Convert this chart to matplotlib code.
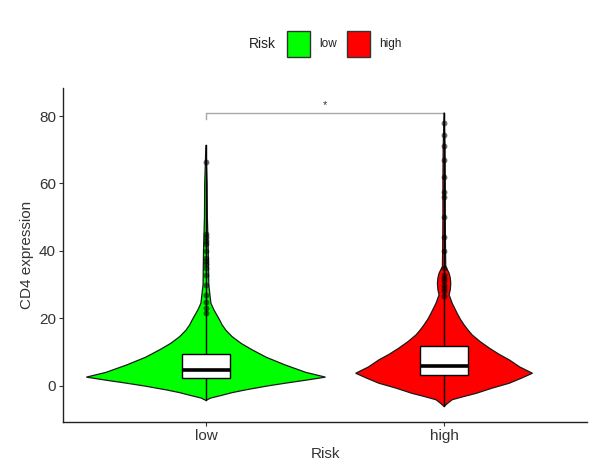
import matplotlib
matplotlib.use("Agg")
import matplotlib.pyplot as plt
from matplotlib.patches import Rectangle

plt.rcParams['font.family'] = ['Liberation Sans', 'DejaVu Sans']

groups = ["low", "high"]
fill_colors = ["#00FF00", "#FF0000"]

# violin outlines: expression level and half width (category units)
low_y = [-4.3, -3.6, -3.0, -2.0, -1.2, 0.0, 0.8, 1.7, 2.6, 4.0, 6.2, 8.5, 10.7, 12.6, 14.6, 16.5,
         18.1, 19.5, 21.0, 22.5, 24.5, 30.0, 40.0, 50.0, 60.0, 71.4]
low_w = [0.0, 0.020, 0.055, 0.110, 0.165, 0.260, 0.333, 0.420, 0.502, 0.420, 0.333, 0.253, 0.194,
         0.148, 0.110, 0.084, 0.068, 0.058, 0.046, 0.034, 0.021, 0.012, 0.010, 0.006, 0.005, 0.0]
high_y = [-6.1, -5.2, -4.1, -3.2, -2.2, -0.7, 0.8, 2.3, 3.75, 5.6, 7.7, 9.4, 11.2, 13.1, 15.1, 16.6,
          18.1, 19.8, 21.5, 24.5, 27.0, 28.5, 30.4, 32.0, 33.4, 35.4, 40.0, 50.0, 60.0, 70.0, 81.0]
high_w = [0.0, 0.014, 0.034, 0.080, 0.135, 0.200, 0.274, 0.325, 0.371, 0.318, 0.274, 0.230, 0.190,
          0.152, 0.118, 0.100, 0.084, 0.068, 0.055, 0.034, 0.021, 0.026, 0.028, 0.026, 0.021, 0.007,
          0.006, 0.005, 0.005, 0.004, 0.0]

# box statistics: q1, median, q3, lower whisker, upper whisker
low_box = [2.3, 4.7, 9.5, -4.3, 20.0]
high_box = [3.3, 5.9, 11.9, -6.1, 25.3]

low_outliers = [21.6, 23.0, 25.0, 27.0, 30.0, 33.0, 35.0, 36.0, 37.0, 38.0, 40.0, 42.0, 43.0,
                44.0, 45.0, 66.5]
high_outliers = [26.5, 28.0, 29.0, 30.0, 31.0, 32.0, 33.0, 35.0, 40.0, 44.0, 50.0, 56.0, 57.5,
                 62.0, 67.0, 71.0, 74.5, 78.0]

y_ticks = [0, 20, 40, 60, 80]
bracket_level = 80.9

fig = plt.figure(figsize=(5.89, 4.73), dpi=100)
ax = fig.add_axes([63 / 589, 1 - 422 / 473, 524 / 589, 334 / 473])

shapes = [(low_y, low_w), (high_y, high_w)]
boxes = [low_box, high_box]
outliers = [low_outliers, high_outliers]

for i, ((ys, ws), stats, pts, col) in enumerate(zip(shapes, boxes, outliers, fill_colors)):
    pos = i + 1
    xs = [pos + w for w in ws] + [pos - w for w in ws[::-1]]
    yy = list(ys) + list(ys[::-1])
    ax.fill(xs, yy, facecolor=col, edgecolor="#1a1a1a", linewidth=0.9, zorder=2)
    ax.plot([pos, pos], [stats[3], max(ys)], color="black", linewidth=1.0, zorder=3)
    ax.scatter([pos] * len(pts), pts, s=18, color="black", alpha=0.55, linewidths=0, zorder=3)
    ax.add_patch(Rectangle((pos - 0.1, stats[0]), 0.2, stats[2] - stats[0],
                           facecolor="white", edgecolor="black", linewidth=1.0, zorder=4))
    ax.plot([pos - 0.1, pos + 0.1], [stats[1], stats[1]], color="black", linewidth=2.6,
            solid_capstyle="butt", zorder=5)

# significance bracket
ax.plot([1, 1, 2, 2], [bracket_level - 1.7, bracket_level, bracket_level, bracket_level - 1.7],
        color="#A8A8A8", linewidth=1.0, zorder=1)
ax.text(1.5, bracket_level + 2.2, "*", ha="center", va="center", fontsize=8, color="#333333")

ax.set_xlim(0.4, 2.6)
ax.set_ylim(-10.7, 88.3)
ax.set_xticks([1, 2])
ax.set_xticklabels(groups)
ax.set_yticks(y_ticks)
for s in ["top", "right"]:
    ax.spines[s].set_visible(False)
for s in ["left", "bottom"]:
    ax.spines[s].set_linewidth(1.0)
    ax.spines[s].set_color("#222222")
ax.tick_params(length=3, width=0.8, colors="#333333", labelsize=11, pad=2)
ax.set_xlabel("Risk", fontsize=11, color="#333333", labelpad=3)
ax.set_ylabel("CD4 expression", fontsize=11, color="#333333", labelpad=4)

# legend above the panel
fig.text(262 / 589, 1 - 44 / 473, "Risk", ha="center", va="center", fontsize=10, color="#222222")
key_x = [287, 347]
lab_x = [319, 379]
for kx, lx, col, g in zip(key_x, lab_x, fill_colors, groups):
    fig.add_artist(Rectangle((kx / 589, 1 - 57 / 473), 23 / 589, 26 / 473,
                             transform=fig.transFigure, facecolor=col, edgecolor="#333333",
                             linewidth=1.0))
    fig.text(lx / 589, 1 - 44 / 473, g, ha="left", va="center", fontsize=8.5, color="#222222")

fig.savefig("out.png", dpi=100)
